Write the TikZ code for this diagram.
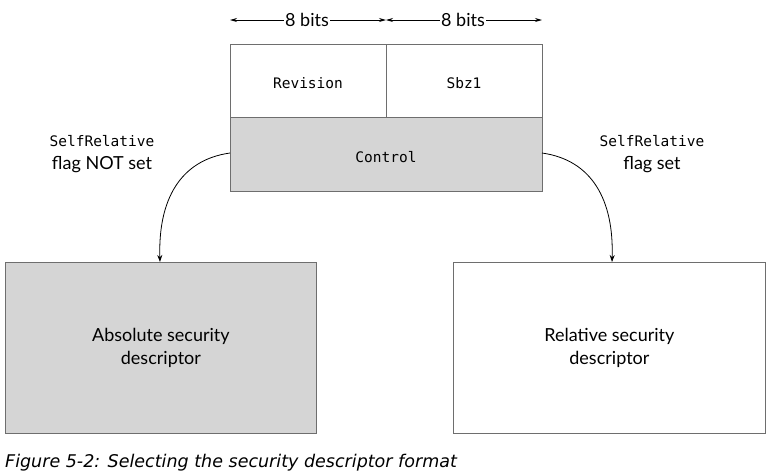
\documentclass[tikz,border=0pt]{standalone}
\usepackage{fontspec}
\setmainfont{Lato}
\newfontfamily\capfont{DejaVu Sans}
\setmonofont{DejaVu Sans Mono}
\usetikzlibrary{arrows.meta}
\definecolor{boxgray}{HTML}{D5D5D5}
\definecolor{edgegray}{HTML}{6E6E6E}
\tikzset{
  field/.style={draw=edgegray, line width=0.8pt, minimum height=0pt, inner sep=0pt},
  mono/.style={font=\ttfamily\fontsize{14.5}{17}\selectfont},
  sans/.style={font=\fontsize{18}{23}\selectfont, align=center},
  conn/.style={-{Stealth[length=7pt,width=5pt]}, line width=0.8pt},
  dim/.style={-{Stealth[length=7pt,width=4pt]}, line width=0.8pt}
}
\begin{document}
\begin{tikzpicture}[x=1pt,y=-1pt]
\useasboundingbox (0,0) rectangle (771,475);
% top structure
\draw[field, fill=white] (230,44) rectangle (542,117);
\draw[field, fill=boxgray] (230,117) rectangle (542,191);
\draw[edgegray, line width=0.8pt] (386,44) -- (386,117);
\node[mono] (rev) at (308,83) {Revision};
\node[mono] (sbz) at (464,83) {Sbz1};
\node[mono] (ctl) at (386,157) {Control};
\coordinate (ctlL) at (230,153);
\coordinate (ctlR) at (542,153);
% bit widths
\node[sans, inner sep=1pt] (b1) at (307,20) {8 bits};
\node[sans, inner sep=1pt] (b2) at (463,20) {8 bits};
\coordinate (a1) at (230,20);
\coordinate (a2) at (386,20);
\coordinate (a3) at (542,20);
\draw[dim] (b1.west) -- (a1);
\draw[dim] (b1.east) -- (a2);
\draw[dim] (b2.west) -- (a2);
\draw[dim] (b2.east) -- (a3);
% bottom boxes
\node[field, fill=boxgray, minimum width=311pt, minimum height=171pt, anchor=north west] (abs) at (5,262) {};
\node[sans] at (abs.center) {Absolute security\\descriptor};
\node[field, fill=white, minimum width=312pt, minimum height=171pt, anchor=north west] (rel) at (453,262) {};
\node[sans] at (rel.center) {Relative security\\descriptor};
% connectors
\draw[conn] (ctlL) .. controls (180,160) and (158,200) .. (abs.north -| 160,0);
\draw[conn] (ctlR) .. controls (592,160) and (614,200) .. (rel.north -| 612,0);
% labels
\node[mono] at (102,141) {SelfRelative};
\node[sans] at (102,165) {flag NOT set};
\node[mono] at (652,141) {SelfRelative};
\node[sans] at (652,165) {flag set};
% caption
\node[anchor=west, inner sep=0pt, font=\capfont\itshape\fontsize{17.5}{20}\selectfont] (cap) at (5,463) {Figure 5-2: Selecting the security descriptor format};
\end{tikzpicture}
\end{document}
